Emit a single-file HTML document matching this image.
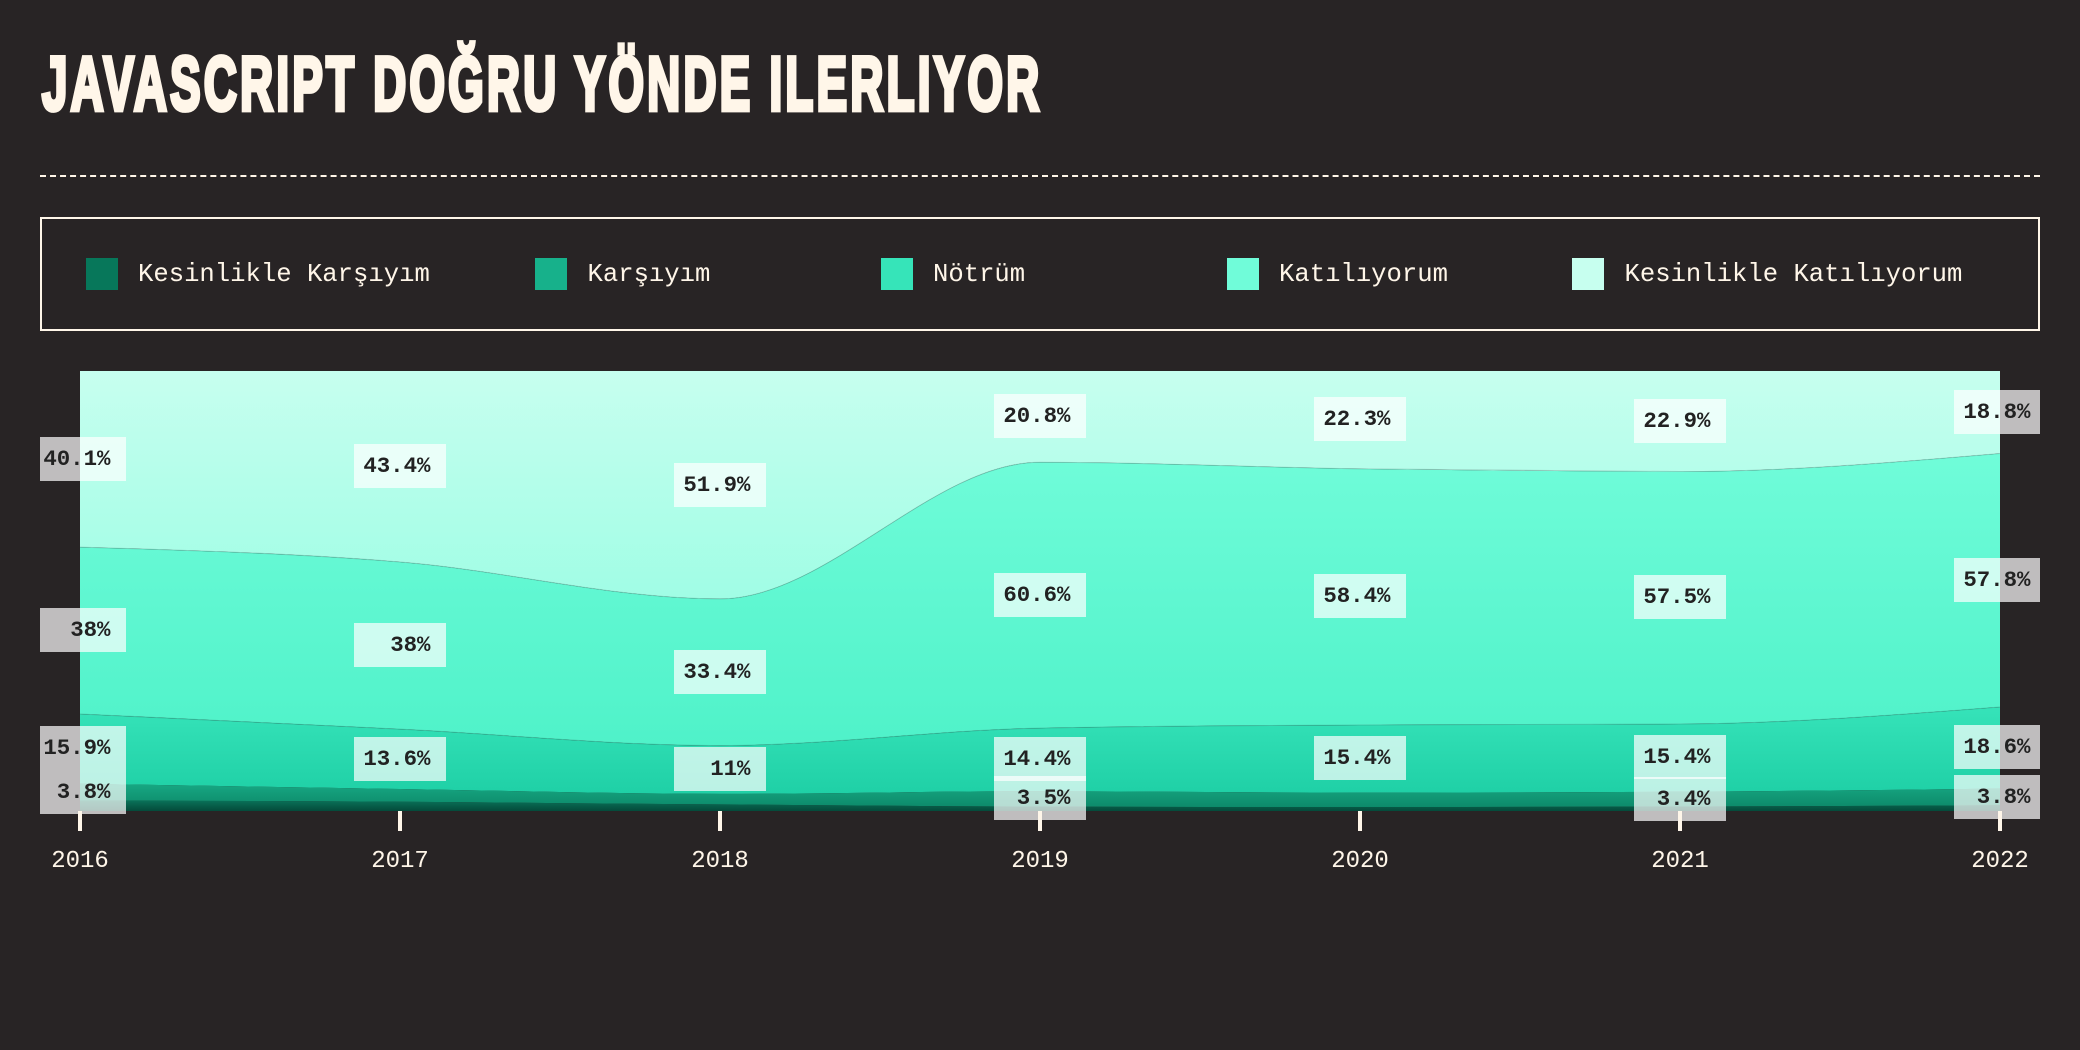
<!DOCTYPE html>
<html lang="tr">
<head>
<meta charset="utf-8">
<title>JavaScript doğru yönde ilerliyor</title>
<style>
html,body{margin:0;padding:0;background:#282425;}
svg{display:block;}
.mono{font-family:"Liberation Mono","DejaVu Sans Mono",monospace;}
</style>
</head>
<body>
<svg id="chart" xmlns="http://www.w3.org/2000/svg" width="2080" height="1050" viewBox="0 0 2080 1050">
  <defs>
    <linearGradient id="grad-0" x1="0" y1="0" x2="0" y2="1"><stop offset="0" stop-color="#0a7259"/><stop offset="1" stop-color="#044a3a"/></linearGradient>
    <linearGradient id="grad-1" x1="0" y1="0" x2="0" y2="1"><stop offset="0" stop-color="#17a883"/><stop offset="1" stop-color="#0d8a6a"/></linearGradient>
    <linearGradient id="grad-2" x1="0" y1="0" x2="0" y2="1"><stop offset="0" stop-color="#36e3b9"/><stop offset="1" stop-color="#1fd0a6"/></linearGradient>
    <linearGradient id="grad-3" x1="0" y1="0" x2="0" y2="1"><stop offset="0" stop-color="#70fcd9"/><stop offset="1" stop-color="#4ff2c9"/></linearGradient>
    <linearGradient id="grad-4" x1="0" y1="0" x2="0" y2="1"><stop offset="0" stop-color="#c7ffef"/><stop offset="1" stop-color="#a0fde5"/></linearGradient>
    <clipPath id="label-clip"><rect x="40" y="0" width="2000" height="1050"/></clipPath>
  </defs>
  <rect x="0" y="0" width="2080" height="1050" fill="#282425"/>
  <text transform="translate(42,110) scale(0.6,1)" x="0" y="0" font-family="'Liberation Sans',sans-serif" font-weight="700" font-size="76" fill="#fff6e9" stroke="#fff6e9" stroke-width="4" style="vector-effect:non-scaling-stroke" textLength="1662" lengthAdjust="spacing">JAVASCRIPT DOĞRU YÖNDE ILERLIYOR</text>
  <line x1="40" y1="176" x2="2040" y2="176" stroke="#fff6e9" stroke-width="2" stroke-dasharray="6 4.0201"/>
  <g>
    <rect x="41" y="218" width="1998" height="112" fill="none" stroke="#fff6e9" stroke-width="2"/>
    <g>
      <rect x="86" y="258" width="32" height="32" fill="#07775a"/>
      <text class="mono" x="138" y="281" font-size="25.6" fill="#fff6e9">Kesinlikle Karşıyım</text>
    </g>
    <g>
      <rect x="535" y="258" width="32" height="32" fill="#17b18b"/>
      <text class="mono" x="587.5" y="281" font-size="25.6" fill="#fff6e9">Karşıyım</text>
    </g>
    <g>
      <rect x="881" y="258" width="32" height="32" fill="#36e4b9"/>
      <text class="mono" x="933" y="281" font-size="25.6" fill="#fff6e9">Nötrüm</text>
    </g>
    <g>
      <rect x="1227" y="258" width="32" height="32" fill="#70fcd9"/>
      <text class="mono" x="1279" y="281" font-size="25.6" fill="#fff6e9">Katılıyorum</text>
    </g>
    <g>
      <rect x="1572" y="258" width="32" height="32" fill="#c7ffef"/>
      <text class="mono" x="1624.5" y="281" font-size="25.6" fill="#fff6e9">Kesinlikle Katılıyorum</text>
    </g>
  </g>
  <g id="areas"></g>
  <g id="labels" clip-path="url(#label-clip)"></g>
  <g id="axis"></g>
</svg>
<script>
const years = ["2016", "2017", "2018", "2019", "2020", "2021", "2022"];
const kesinlikleKarsiyim = [2.4, 2.1, 1.5, 1.0, 0.9, 1.0, 1.3];
const karsiyim = [3.8, 2.9, 2.4, 3.5, 3.3, 3.4, 3.8];
const notrum = [15.9, 13.6, 11, 14.4, 15.4, 15.4, 18.6];
const katiliyorum = [38, 38, 33.4, 60.6, 58.4, 57.5, 57.8];
const kesinlikleKatiliyorum = [40.1, 43.4, 51.9, 20.8, 22.3, 22.9, 18.8];
const seriesValues = [kesinlikleKarsiyim, karsiyim, notrum, katiliyorum, kesinlikleKatiliyorum];
const seriesNames = ["kesinlikle-karsiyim", "karsiyim", "notrum", "katiliyorum", "kesinlikle-katiliyorum"];

const NS = "http://www.w3.org/2000/svg";
const plot = { left: 80, right: 2000, top: 371, bottom: 811 };
const labelThreshold = 3.4;

function xScale(i) {
  return plot.left + (plot.right - plot.left) * i / (years.length - 1);
}
function yScale(fraction) {
  return plot.bottom - (plot.bottom - plot.top) * fraction;
}

function sign(v) { return v < 0 ? -1 : 1; }
function monotoneTangents(xs, ys) {
  const n = xs.length;
  const t = new Array(n);
  for (let i = 1; i < n - 1; i++) {
    const h0 = xs[i] - xs[i - 1], h1 = xs[i + 1] - xs[i];
    const s0 = (ys[i] - ys[i - 1]) / h0, s1 = (ys[i + 1] - ys[i]) / h1;
    const p = (s0 * h1 + s1 * h0) / (h0 + h1);
    t[i] = (sign(s0) + sign(s1)) * Math.min(Math.abs(s0), Math.abs(s1), 0.5 * Math.abs(p)) || 0;
  }
  const hs = xs[1] - xs[0], he = xs[n - 1] - xs[n - 2];
  t[0] = (3 * (ys[1] - ys[0]) / hs - t[1]) / 2;
  t[n - 1] = (3 * (ys[n - 1] - ys[n - 2]) / he - t[n - 2]) / 2;
  return t;
}
function forwardCurve(xs, ys) {
  const t = monotoneTangents(xs, ys);
  let d = "";
  for (let i = 0; i < xs.length - 1; i++) {
    const dx = (xs[i + 1] - xs[i]) / 3;
    d += "C" + (xs[i] + dx) + "," + (ys[i] + dx * t[i]) + " " + (xs[i + 1] - dx) + "," + (ys[i + 1] - dx * t[i + 1]) + " " + xs[i + 1] + "," + ys[i + 1];
  }
  return d;
}
function backwardCurve(xs, ys) {
  const t = monotoneTangents(xs, ys);
  let d = "";
  for (let i = xs.length - 1; i > 0; i--) {
    const dx = (xs[i] - xs[i - 1]) / 3;
    d += "C" + (xs[i] - dx) + "," + (ys[i] - dx * t[i]) + " " + (xs[i - 1] + dx) + "," + (ys[i - 1] + dx * t[i - 1]) + " " + xs[i - 1] + "," + ys[i - 1];
  }
  return d;
}

const xs = years.map((y, i) => xScale(i));
const totals = years.map((y, i) => seriesValues.reduce((sum, s) => sum + s[i], 0));
const boundaries = [years.map(() => 0)];
seriesValues.forEach((s, k) => {
  boundaries.push(years.map((y, i) => boundaries[k][i] + s[i] / totals[i]));
});

const areasG = document.getElementById("areas");
const labelsG = document.getElementById("labels");
const axisG = document.getElementById("axis");

/* Paint from the top series down so each darker band sits on the lighter one. */
for (let k = seriesValues.length - 1; k >= 0; k--) {
  const lower = boundaries[k].map(yScale);
  const upper = boundaries[k + 1].map(yScale);
  const area = document.createElementNS(NS, "path");
  area.setAttribute("d", "M" + xs[0] + "," + upper[0] + forwardCurve(xs, upper) + "L" + xs[xs.length - 1] + "," + lower[lower.length - 1] + backwardCurve(xs, lower) + "Z");
  area.setAttribute("fill", "url(#grad-" + k + ")");
  
  
  areasG.appendChild(area);
}
for (let k = seriesValues.length - 1; k >= 3; k--) {
  const lower = boundaries[k].map(yScale);
  const edge = document.createElementNS(NS, "path");
  edge.setAttribute("d", "M" + xs[0] + "," + lower[0] + forwardCurve(xs, lower));
  edge.setAttribute("fill", "none");
  edge.setAttribute("stroke", "#282425");
  edge.setAttribute("stroke-opacity", "0.18");
  edge.setAttribute("stroke-width", "1");
  
  
  areasG.appendChild(edge);
}

years.forEach((year, i) => {
  const x = xs[i];
  for (let k = seriesValues.length - 1; k >= 0; k--) {
    const v = seriesValues[k][i];
    if (v < labelThreshold) continue;
    const cy = (yScale(boundaries[k][i]) + yScale(boundaries[k + 1][i])) / 2;
    const top = Math.round(cy - 22.45);
    const box = document.createElementNS(NS, "rect");
    box.setAttribute("x", x - 46);
    box.setAttribute("y", top);
    box.setAttribute("width", 92);
    box.setAttribute("height", 44);
    box.setAttribute("fill", "#ffffff");
    box.setAttribute("fill-opacity", "0.7");
    
    
    labelsG.appendChild(box);
    const label = document.createElementNS(NS, "text");
    label.setAttribute("x", x + 30.5);
    label.setAttribute("y", top + 28);
    label.setAttribute("text-anchor", "end");
    label.setAttribute("font-size", "22.4");
    label.setAttribute("font-weight", "700");
    label.setAttribute("fill", "#222222");
    label.setAttribute("class", "mono");
    
    
    label.textContent = v + "%";
    labelsG.appendChild(label);
  }
  const tick = document.createElementNS(NS, "rect");
  tick.setAttribute("x", x - 2);
  tick.setAttribute("y", plot.bottom);
  tick.setAttribute("width", 4);
  tick.setAttribute("height", 20);
  tick.setAttribute("fill", "#fff6e9");
  
  
  axisG.appendChild(tick);
  const tickLabel = document.createElementNS(NS, "text");
  tickLabel.setAttribute("x", x);
  tickLabel.setAttribute("y", 867);
  tickLabel.setAttribute("text-anchor", "middle");
  tickLabel.setAttribute("font-size", "24");
  tickLabel.setAttribute("fill", "#fff6e9");
  tickLabel.setAttribute("class", "mono");
  
  
  tickLabel.textContent = year;
  axisG.appendChild(tickLabel);
});
</script>
</body>
</html>
